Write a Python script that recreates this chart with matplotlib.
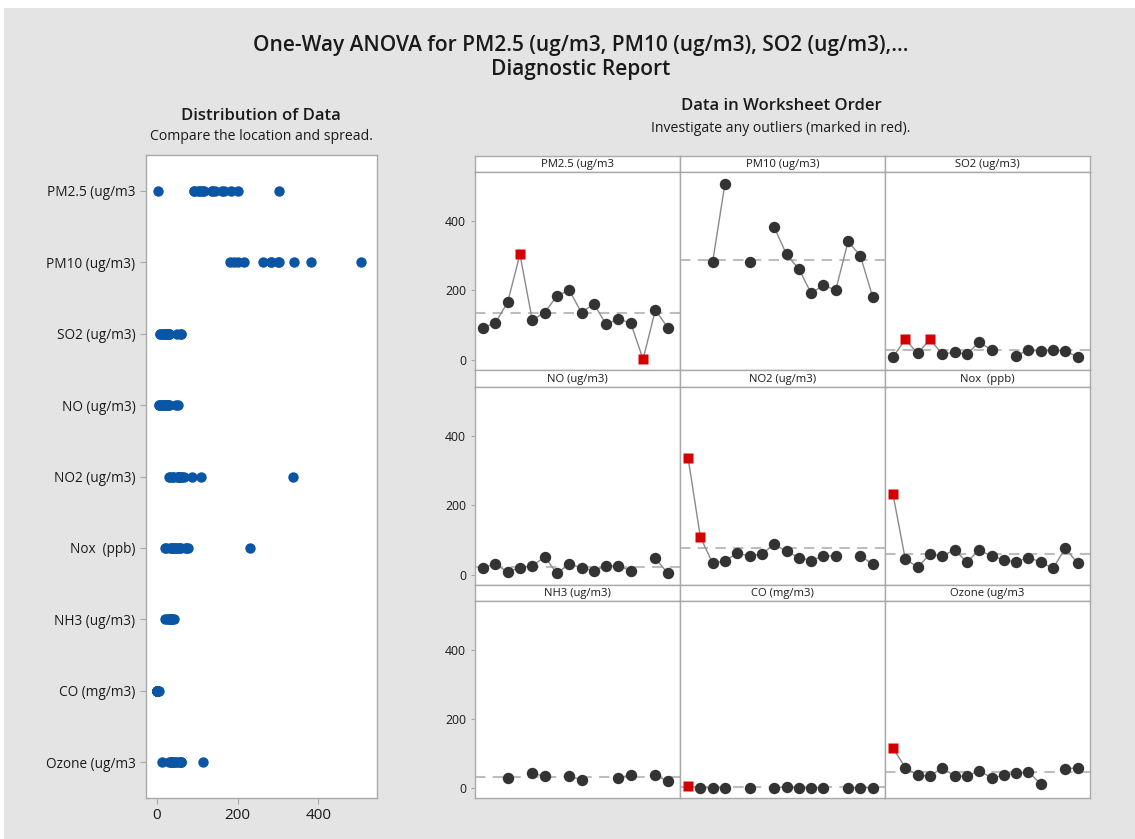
"""One-way ANOVA diagnostic report: distribution of data and data in worksheet order."""

import matplotlib.pyplot as plt
import numpy as np
from matplotlib.patches import Rectangle

nan = np.nan

VARIABLES = [
    "PM2.5 (ug/m3",
    "PM10 (ug/m3)",
    "SO2 (ug/m3)",
    "NO (ug/m3)",
    "NO2 (ug/m3)",
    "Nox  (ppb)",
    "NH3 (ug/m3)",
    "CO (mg/m3)",
    "Ozone (ug/m3",
]

# values in worksheet order (16 rows, nan = missing)
PM25 = [93, 106, 166, 304, 115, 136, 184, 201, 136, 162, 102, 118, 106, 2, 144, 93]
PM10 = [nan, nan, 282, 507, nan, 282, nan, 382, 304, 262, 192, 215, 201, 341, 300, 181]
SO2 = [8, 59, 19, 59, 17, 22, 17, 51, 29, nan, 12, 29, 25, 29, 26, 8]
NO = [21, 31, 9, 21, 26, 52, 5, 31, 21, 12, 26, 26, 12, nan, 48, 5]
NO2 = [338, 110, 33, 41, 62, 55, 60, 88, 68, 50, 41, 55, 55, nan, 55, 31]
NOX = [232, 45, 23, 59, 55, 72, 37, 72, 54, 44, 37, 50, 37, 19, 77, 33]
NH3 = [nan, nan, 29, nan, 42, 34, nan, 34, 24, nan, nan, 29, 38, nan, 38, 19]
CO = [4.5, 1.0, 0.9, 1.1, nan, 1.2, nan, 1.0, 3.0, 1.1, 0.9, 1.0, nan, 0.8, 1.2, 1.0]
OZONE = [115, 59, 37, 34, 59, 34, 34, 50, 29, 37, 43, 46, 12, nan, 55, 59]

SERIES = [PM25, PM10, SO2, NO, NO2, NOX, NH3, CO, OZONE]

# rows flagged as outliers (red squares)
OUTLIERS = [[3, 13], [], [1, 3], [], [0, 1], [0], [], [0], [0]]

W, H = 1135, 839
BG = "#e4e4e4"
FRAME = "#a9a9a9"
INK = "#1a1a1a"
FONT = "Open Sans"


def box(x0, y0, x1, y1):
    # pixel box (top-left origin) -> figure fraction
    return [x0 / W, 1 - y1 / H, (x1 - x0) / W, (y1 - y0) / H]


def style_frame(ax):
    for sp in ax.spines.values():
        sp.set_color(FRAME)
        sp.set_linewidth(1.0)


plt.rcParams["font.family"] = [FONT, "DejaVu Sans"]
fig = plt.figure(figsize=(W / 100, H / 100), dpi=100)
fig.patch.set_facecolor("white")
fig.patches.append(Rectangle((4 / W, 0), 1, 1 - 8 / H, transform=fig.transFigure,
                             facecolor=BG, edgecolor="none", zorder=-10))

fig.text(581 / W, 1 - 45 / H, "One-Way ANOVA for PM2.5 (ug/m3, PM10 (ug/m3), SO2 (ug/m3),...",
         ha="center", va="center", fontsize=15, fontweight="semibold", color=INK)
fig.text(581 / W, 1 - 70 / H, "Diagnostic Report", ha="center", va="center",
         fontsize=15, fontweight="semibold", color=INK)
fig.text(261 / W, 1 - 116 / H, "Distribution of Data", ha="center", va="center",
         fontsize=12, fontweight="semibold", color=INK)
fig.text(261 / W, 1 - 137 / H, "Compare the location and spread.", ha="center", va="center",
         fontsize=10.1, color=INK)
fig.text(781 / W, 1 - 106 / H, "Data in Worksheet Order", ha="center", va="center",
         fontsize=12, fontweight="semibold", color=INK)
fig.text(781 / W, 1 - 129 / H, "Investigate any outliers (marked in red).", ha="center",
         va="center", fontsize=10.1, color=INK)

# left: dot plot of each variable
ax = fig.add_axes(box(146, 155, 377, 798))
for i, vals in enumerate(SERIES):
    v = np.array(vals, dtype=float)
    v = v[~np.isnan(v)]
    ax.plot(v, np.full(len(v), i), "o", color="#0b56a4", ms=7.5, mec="none")
ax.set_ylim(len(SERIES) - 0.5, -0.5)
ax.set_xlim(-27, 546)
ax.set_yticks(range(len(SERIES)))
ax.set_yticklabels(VARIABLES, fontsize=9.8)
ax.set_xticks([0, 200, 400])
ax.tick_params(axis="x", labelsize=11)
ax.tick_params(axis="both", color=FRAME, length=4, labelcolor=INK)
style_frame(ax)

# right: data in worksheet order, 3x3 panels
cols = [475, 680, 885, 1090]
strip_top = [156, 370, 585]
plot_top = [172, 387, 601]
plot_bot = [370, 585, 798]
x = np.arange(16)

for k, vals in enumerate(SERIES):
    r, c = divmod(k, 3)
    v = np.array(vals, dtype=float)

    st = fig.add_axes(box(cols[c], strip_top[r], cols[c + 1], plot_top[r]))
    st.set_facecolor("white")
    st.set_xticks([])
    st.set_yticks([])
    style_frame(st)
    st.text(0.5, 0.45, VARIABLES[k], ha="center", va="center", fontsize=8.1,
            color=INK, transform=st.transAxes)

    pa = fig.add_axes(box(cols[c], plot_top[r], cols[c + 1], plot_bot[r]))
    style_frame(pa)
    pa.axhline(np.nanmean(v), color="#bdbdbd", lw=1.5, ls=(0, (5, 3.5)), zorder=1)
    pa.plot(x, v, "-", color="#8a8a8a", lw=1.0, zorder=2)
    red = np.zeros(16, dtype=bool)
    red[OUTLIERS[k]] = True
    pa.plot(x[~red], v[~red], "o", color="#333333", ms=8.2, mec="none", zorder=3)
    pa.plot(x[red], v[red], "s", color="#d40000", ms=7.5, mec="none", zorder=4)
    pa.set_xlim(-0.65, 16.0)
    pa.set_ylim(-29, 541)
    pa.set_xticks([])
    if c == 0:
        pa.set_yticks([0, 200, 400])
        pa.tick_params(axis="y", labelsize=8.8, color=FRAME, length=3, labelcolor=INK)
    else:
        pa.set_yticks([])

fig.savefig("out.png", dpi=100, facecolor=fig.get_facecolor())
